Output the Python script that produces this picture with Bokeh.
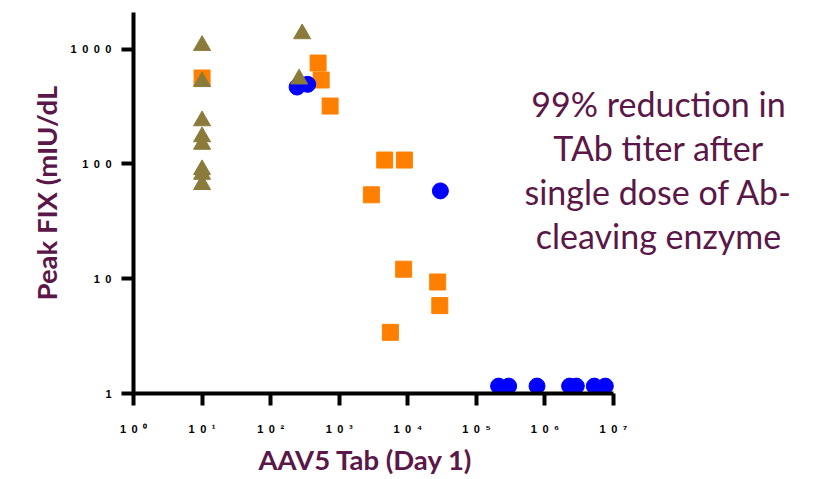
from bokeh.plotting import figure
from bokeh.models import FixedTicker, Label, Title
from bokeh.embed import file_html
from bokeh.resources import INLINE

# Peak FIX activity against day-1 AAV5 total antibody titer, three groups
tri_x = [10, 10, 10, 10, 10, 10, 10, 10, 288, 260]
tri_y = [1075, 520, 237, 172, 148, 89, 81, 66, 1359, 548]

sq_x = [10, 492, 545, 737, 4610, 8920, 2946, 8710, 27300, 29300, 5575]
sq_y = [560, 756, 538, 319, 108, 108, 53.8, 12.1, 9.36, 5.83, 3.41]

dot_x = [243, 347, 29900, 211000, 296000, 767000, 2290000, 2870000, 5250000, 7600000]
dot_y = [467, 493, 58.2, 1.16, 1.16, 1.16, 1.16, 1.16, 1.16, 1.16]

x_ticks = [1, 10, 100, 1000, 1e4, 1e5, 1e6, 1e7]
sup = ["\u2070", "\u00b9", "\u00b2", "\u00b3", "\u2074", "\u2075", "\u2076", "\u2077"]
y_ticks = [1, 10, 100, 1000]
y_tick_labels = ["1", "1 0", "1 0 0", "1 0 0 0"]

note_lines = ["99% reduction in", "TAb titer after", "single dose of Ab-", "cleaving enzyme"]

PURPLE = "#5B1747"
SP = "\u2002"
TITLE_FONT = dict(text_font="Lato", text_font_style="bold", text_font_size="27.5px",
                  text_color=PURPLE)

# the frame runs to the right edge so the note beside the data is not clipped;
# the x axis itself stops at 10^7 through its bounds
p = figure(width=815, height=479, x_axis_type="log", y_axis_type="log",
           x_range=(1, 10 ** 9.946), y_range=(1, 2083),
           output_backend="svg", toolbar_location=None,
           min_border_left=133, min_border_right=0,
           min_border_top=12, min_border_bottom=86)
p.outline_line_color = None
p.grid.visible = False

p.scatter(sq_x, sq_y, marker="square", size=16, fill_color="#FF8000", line_color="#FF8000")
p.scatter(dot_x, dot_y, marker="circle", size=16, fill_color="#0000FF", line_color="#0000FF")
p.scatter(tri_x, tri_y, marker="triangle", size=17, fill_color="#8B7B3B", line_color="#8B7B3B")

for ax in (p.xaxis[0], p.yaxis[0]):
    ax.axis_line_width = 4
    ax.axis_line_color = "black"
    ax.major_tick_line_width = 4
    ax.major_tick_line_color = "black"
    ax.major_tick_out = 12
    ax.major_tick_in = 0
    ax.minor_tick_line_color = None
    ax.major_label_text_font = "Liberation Sans"
    ax.major_label_text_font_style = "bold"
    ax.major_label_text_font_size = "11px"
    ax.major_label_text_color = "black"

p.xaxis.bounds = (1, 1e7)
p.xaxis.ticker = FixedTicker(ticks=x_ticks)
p.xaxis.major_label_overrides = {t: f"1{SP}0{SP}{s}" for t, s in zip(x_ticks, sup)}
p.xaxis.major_label_standoff = 17

p.yaxis.ticker = FixedTicker(ticks=y_ticks)
p.yaxis.major_label_overrides = {t: s.replace(" ", SP) for t, s in zip(y_ticks, y_tick_labels)}
p.yaxis.major_label_standoff = 10

# axis titles, placed along the axes with explicit offsets
p.add_layout(Title(text="AAV5 Tab (Day 1)", align="left", offset=125, standoff=7,
                   **TITLE_FONT), "below")
p.add_layout(Title(text="Peak FIX (mIU/dL", align="left", offset=93, standoff=10,
                   **TITLE_FONT), "left")

for i, line in enumerate(note_lines):
    p.add_layout(Label(x=525, y=290 - 44 * i, x_units="screen", y_units="screen",
                       text=line, text_align="center", text_baseline="alphabetic",
                       text_font="Lato", text_font_size="34px", text_color=PURPLE))

open("out.html", "w").write(file_html(p, INLINE))
